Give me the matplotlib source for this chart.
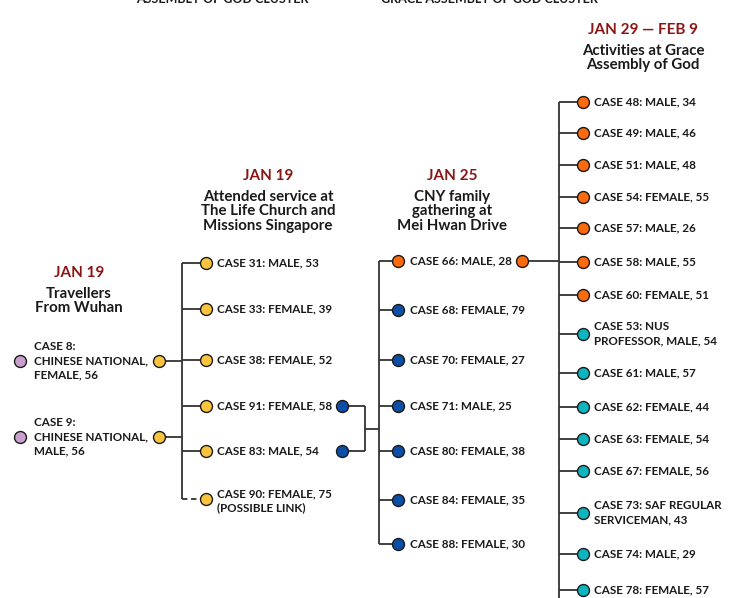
import matplotlib.pyplot as plt

plt.rcParams['font.family'] = ['Lato', 'DejaVu Sans']

# data
wuhan_cases = ["CASE 8:\nCHINESE NATIONAL,\nFEMALE, 56",
               "CASE 9:\nCHINESE NATIONAL,\nMALE, 56"]
church_cases = ["CASE 31: MALE, 53", "CASE 33: FEMALE, 39", "CASE 38: FEMALE, 52",
                "CASE 91: FEMALE, 58", "CASE 83: MALE, 54",
                "CASE 90: FEMALE, 75\n(POSSIBLE LINK)"]
family_cases = ["CASE 66: MALE, 28", "CASE 68: FEMALE, 79", "CASE 70: FEMALE, 27",
                "CASE 71: MALE, 25", "CASE 80: FEMALE, 38", "CASE 84: FEMALE, 35",
                "CASE 88: FEMALE, 30"]
family_groups = ["orange", "blue", "blue", "blue", "blue", "blue", "blue"]
grace_cases = ["CASE 48: MALE, 34", "CASE 49: MALE, 46", "CASE 51: MALE, 48",
               "CASE 54: FEMALE, 55", "CASE 57: MALE, 26", "CASE 58: MALE, 55",
               "CASE 60: FEMALE, 51", "CASE 53: NUS\nPROFESSOR, MALE, 54",
               "CASE 61: MALE, 57", "CASE 62: FEMALE, 44", "CASE 63: FEMALE, 54",
               "CASE 67: FEMALE, 56", "CASE 73: SAF REGULAR\nSERVICEMAN, 43",
               "CASE 74: MALE, 29", "CASE 78: FEMALE, 57"]
grace_groups = ["orange"] * 7 + ["teal"] * 8

headers = [("JAN 19", "Travellers\nFrom Wuhan"),
           ("JAN 19", "Attended service at\nThe Life Church and\nMissions Singapore"),
           ("JAN 25", "CNY family\ngathering at\nMei Hwan Drive"),
           ("JAN 29 \u2014 FEB 9", "Activities at Grace\nAssembly of God")]
top_titles = ["ASSEMBLY OF GOD CLUSTER", "GRACE ASSEMBLY OF GOD CLUSTER"]

# layout (pixels)
wuhan_y = [361, 437]
church_y = [263, 309, 360, 406, 451, 499]
family_y = [261, 310, 360, 406, 451, 500, 544]
grace_y = [102, 133, 165, 197, 228, 262, 295, 334, 373, 407, 439, 471, 513, 554, 590]
header_pos = [(79, 273), (268, 176), (452, 176), (643, 30)]

colors = {"purple": "#c9a0cc", "yellow": "#fbc43d", "blue": "#0a4ea6",
          "orange": "#fb6a0c", "teal": "#0cb5bf"}
line_c = "#333333"
red = "#8b1414"
text_c = "#1a1a1a"

W, H = 747, 598
fig = plt.figure(figsize=(W / 100, H / 100), dpi=100)
ax = fig.add_axes([0, 0, 1, 1])
ax.set_xlim(0, W)
ax.set_ylim(H, 0)
ax.axis("off")


def node(x, y, color):
    ax.plot(x, y, "o", ms=8.6, mfc=colors[color], mec="#1a1a1a", mew=1.0, zorder=3)


def label(x, y, s):
    ax.text(x, y, s, ha="left", va="center", fontsize=8.4, fontweight="bold",
            color=text_c, linespacing=1.35)


def seg(xs, ys):
    ax.plot(xs, ys, color=line_c, lw=1.3, zorder=1, solid_capstyle="butt")


# column 1: travellers from Wuhan
trunk1 = 182
for s, y in zip(wuhan_cases, wuhan_y):
    node(20, y, "purple")
    label(34, y, s)
    node(159, y, "yellow")
    seg([159, trunk1], [y, y])

# column 2: Life Church
seg([trunk1, trunk1], [church_y[0], church_y[-1]])
for i, (s, y) in enumerate(zip(church_cases, church_y)):
    if i == len(church_cases) - 1:
        ax.plot([trunk1, 206], [y, y], color=line_c, lw=1.3, dashes=(3, 2), zorder=1)
        label(217, y + 2, s)
    else:
        seg([trunk1, 206], [y, y])
        label(217, y, s)
    node(206, y, "yellow")

# link cases 91 and 83 to family gathering
trunk3 = 379
for y in church_y[3:5]:
    node(342, y, "blue")
    seg([342, 365], [y, y])
seg([365, 365], church_y[3:5])
mid = sum(church_y[3:5]) / 2
seg([365, trunk3], [mid, mid])

# column 3: Mei Hwan Drive
seg([trunk3, trunk3], [family_y[0], family_y[-1]])
for s, y, g in zip(family_cases, family_y, family_groups):
    seg([trunk3, 398], [y, y])
    node(398, y, g)
    label(410, y, s)

# case 66 to Grace Assembly
trunk4 = 559
node(522, family_y[0], "orange")
seg([522, trunk4], [family_y[0], family_y[0]])

# column 4: Grace Assembly of God
seg([trunk4, trunk4], [grace_y[0], H + 5])
for s, y, g in zip(grace_cases, grace_y, grace_groups):
    seg([trunk4, 583], [y, y])
    node(583, y, g)
    label(594, y, s)

# headers
for (date, desc), (x, y) in zip(headers, header_pos):
    ax.text(x, y, date, ha="center", va="center", fontsize=11, fontweight="bold", color=red)
    ax.text(x, y + 14, desc, ha="center", va="top", fontsize=10.8, fontweight="bold",
            color=text_c, linespacing=1.03)

# cut-off titles at the very top
for s, x in zip(top_titles, [222, 489]):
    ax.text(x, 3, s, ha="center", va="baseline", fontsize=9, fontweight="bold", color=text_c)

fig.savefig("out.png", dpi=100)
